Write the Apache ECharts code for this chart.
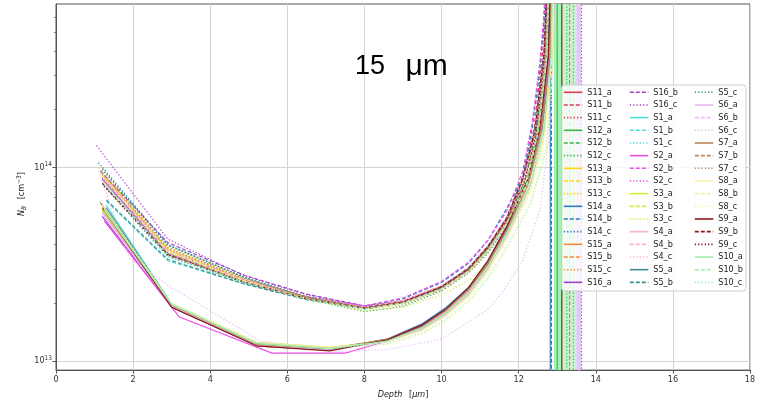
<!DOCTYPE html>
<html><head><meta charset="utf-8">
<script src="https://cdn.jsdelivr.net/npm/echarts@6/dist/echarts.min.js"></script>
<style>html,body{margin:0;padding:0;background:#fff}#c{width:768px;height:406px}</style>
</head><body><div id="c"></div>
<script>
// ---------- DATA (depth in µm, N_B in cm^-3) ----------
const xTicks = [0, 2, 4, 6, 8, 10, 12, 14, 16, 18];
const yMajorTicks = [1e13, 1e14];
const yMinorTicks = [2e13,3e13,4e13,5e13,6e13,7e13,8e13,9e13,2e14,3e14,4e14,5e14,6e14];
const titleText = '15 μm';

const S11_a = [[1.25,5.9e13],[3.0,1.9e13],[5.2,1.2e13],[7.1,1.14e13],[8.6,1.3e13],[9.5,1.55e13],[10.1,1.85e13],[10.7,2.4e13],[11.2,3.3e13],[11.7,5.0e13],[12.25,8.8e13],[12.6,1.65e14],[12.78,3.8e14],[12.86,2e15]];
const S11_b = [[1.2,8.8e13],[2.9,3.6e13],[4.9,2.55e13],[6.5,2.1e13],[8.0,1.87e13],[9.0,2.0e13],[10.0,2.4e13],[10.7,3.0e13],[11.2,3.9e13],[11.7,5.6e13],[12.1,9.0e13],[12.4,1.6e14],[12.62,3.8e14],[12.75,2e15]];
const S11_c = [[1.2,9.3e13],[2.9,3.8e13],[4.9,2.65e13],[6.5,2.15e13],[8.0,1.9e13],[9.0,2.03e13],[10.0,2.4e13],[10.7,2.95e13],[11.2,3.8e13],[11.7,5.3e13],[12.15,8.3e13],[12.45,1.45e14],[12.68,3.6e14],[12.8,2e15]];
const S12_a = [[1.2,6.0e13],[3.0,1.95e13],[5.2,1.23e13],[7.1,1.16e13],[8.6,1.29e13],[9.5,1.5e13],[10.1,1.8e13],[10.7,2.3e13],[11.2,3.15e13],[11.7,4.7e13],[12.25,8.2e13],[12.6,1.55e14],[12.82,3.8e14],[12.9,3e15],[13.0,1e17],[13.0,1e12]];
const S12_b = [[1.25,8.5e13],[2.9,3.6e13],[4.9,2.6e13],[6.5,2.12e13],[8.0,1.87e13],[9.0,2.0e13],[10.0,2.38e13],[10.7,2.95e13],[11.2,3.8e13],[11.7,5.3e13],[12.15,8.4e13],[12.45,1.5e14],[12.68,3.9e14],[12.8,2e15]];
const S12_c = [[1.2,9.8e13],[2.9,4.0e13],[4.9,2.7e13],[6.5,2.1e13],[8.0,1.8e13],[9.0,1.92e13],[10.0,2.3e13],[10.7,2.85e13],[11.2,3.6e13],[11.7,5.0e13],[12.2,7.8e13],[12.5,1.4e14],[12.72,3.5e14],[12.85,2e15],[13.25,1e17],[13.25,1e12]];
const S13_a = [[1.2,6.1e13],[3.0,1.97e13],[5.2,1.25e13],[7.1,1.18e13],[8.6,1.27e13],[9.5,1.47e13],[10.1,1.75e13],[10.7,2.22e13],[11.2,3.0e13],[11.7,4.5e13],[12.3,8.0e13],[12.65,1.55e14],[12.84,3.8e14],[12.92,3e15]];
const S13_b = [[1.15,9.5e13],[2.9,3.8e13],[4.9,2.62e13],[6.5,2.14e13],[8.0,1.9e13],[9.0,2.05e13],[10.0,2.45e13],[10.7,3.0e13],[11.2,3.85e13],[11.7,5.4e13],[12.1,8.5e13],[12.42,1.5e14],[12.66,3.7e14],[12.8,2e15]];
const S13_c = [[1.1,1.0e14],[2.9,3.9e13],[4.9,2.68e13],[6.5,2.16e13],[8.0,1.9e13],[9.0,2.02e13],[10.0,2.38e13],[10.7,2.9e13],[11.2,3.7e13],[11.7,5.1e13],[12.2,8.0e13],[12.5,1.45e14],[12.72,3.6e14],[12.85,2e15]];
const S14_a = [[1.25,5.8e13],[3.0,1.92e13],[5.2,1.21e13],[7.1,1.15e13],[8.6,1.3e13],[9.5,1.56e13],[10.1,1.88e13],[10.7,2.4e13],[11.2,3.25e13],[11.7,4.9e13],[12.25,8.6e13],[12.6,1.65e14],[12.77,3.8e14],[12.8,3e15],[12.82,1e17],[12.82,1e12]];
const S14_b = [[1.2,8.7e13],[2.9,3.55e13],[4.9,2.58e13],[6.5,2.15e13],[8.0,1.92e13],[9.0,2.1e13],[10.0,2.55e13],[10.7,3.2e13],[11.2,4.2e13],[11.7,6.2e13],[12.1,8.8e13],[12.35,1.6e14],[12.55,3.2e14],[12.68,6.5e14],[12.75,3e15],[12.85,1e17],[12.85,1e12]];
const S14_c = [[1.1,1.06e14],[2.9,4.0e13],[4.9,2.7e13],[6.5,2.15e13],[8.0,1.88e13],[9.0,2.0e13],[10.0,2.35e13],[10.7,2.9e13],[11.2,3.7e13],[11.7,5.1e13],[12.2,8.0e13],[12.5,1.5e14],[12.72,3.8e14],[12.85,2e15]];
const S15_a = [[1.15,6.6e13],[3.0,1.93e13],[5.2,1.2e13],[7.1,1.14e13],[8.6,1.28e13],[9.5,1.5e13],[10.1,1.8e13],[10.7,2.3e13],[11.2,3.15e13],[11.7,4.7e13],[12.25,8.2e13],[12.6,1.55e14],[12.82,3.7e14],[12.9,3e15]];
const S15_b = [[1.2,9.0e13],[2.9,3.7e13],[4.9,2.6e13],[6.5,2.12e13],[8.0,1.88e13],[9.0,2.02e13],[10.0,2.4e13],[10.7,2.98e13],[11.2,3.85e13],[11.7,5.4e13],[12.1,8.6e13],[12.42,1.55e14],[12.66,3.8e14],[12.8,2e15]];
const S15_c = [[1.2,9.2e13],[2.9,3.75e13],[4.9,2.63e13],[6.5,2.13e13],[8.0,1.89e13],[9.0,2.0e13],[10.0,2.36e13],[10.7,2.92e13],[11.2,3.75e13],[11.7,5.2e13],[12.2,8.2e13],[12.5,1.5e14],[12.72,3.7e14],[12.85,2e15]];
const S16_a = [[1.2,5.6e13],[3.0,1.9e13],[5.2,1.21e13],[7.1,1.15e13],[8.6,1.29e13],[9.5,1.52e13],[10.1,1.82e13],[10.7,2.35e13],[11.2,3.2e13],[11.7,4.8e13],[12.25,8.4e13],[12.6,1.6e14],[12.82,3.7e14],[12.9,3e15]];
const S16_b = [[1.15,9.6e13],[2.9,4.1e13],[4.9,2.77e13],[6.5,2.22e13],[8.0,1.93e13],[9.0,2.05e13],[10.0,2.42e13],[10.7,3.0e13],[11.2,3.85e13],[11.7,5.4e13],[12.1,8.5e13],[12.42,1.5e14],[12.66,3.8e14],[12.8,2e15]];
const S16_c = [[1.05,1.3e14],[2.9,4.27e13],[4.9,2.75e13],[6.5,2.2e13],[8.0,1.92e13],[9.0,2.03e13],[10.0,2.4e13],[10.7,2.95e13],[11.2,3.8e13],[11.7,5.3e13],[12.2,8.3e13],[12.5,1.5e14],[12.72,3.8e14],[12.85,2e15],[13.63,1e17],[13.63,1e12]];
const S1_a = [[1.3,6.4e13],[3.0,1.98e13],[5.2,1.24e13],[7.1,1.16e13],[8.6,1.28e13],[9.5,1.5e13],[10.1,1.8e13],[10.7,2.3e13],[11.2,3.15e13],[11.7,4.7e13],[12.25,8.2e13],[12.6,1.55e14],[12.82,3.7e14],[12.9,3e15]];
const S1_b = [[1.31,6.7e13],[2.9,3.3e13],[4.9,2.5e13],[6.5,2.08e13],[8.0,1.86e13],[9.0,2.0e13],[10.0,2.4e13],[10.7,3.0e13],[11.2,3.9e13],[11.7,5.5e13],[12.1,8.7e13],[12.42,1.55e14],[12.66,3.9e14],[12.8,2e15]];
const S1_c = [[1.25,8.0e13],[2.9,3.45e13],[4.9,2.52e13],[6.5,2.1e13],[8.0,1.87e13],[9.0,2.0e13],[10.0,2.38e13],[10.7,2.95e13],[11.2,3.8e13],[11.7,5.3e13],[12.2,8.3e13],[12.5,1.5e14],[12.72,3.8e14],[12.85,2e15]];
const S2_a = [[1.25,5.3e13],[3.2,1.69e13],[5.6,1.1e13],[7.5,1.1e13],[8.6,1.27e13],[9.5,1.5e13],[10.1,1.8e13],[10.7,2.32e13],[11.2,3.2e13],[11.7,4.8e13],[12.25,8.4e13],[12.6,1.62e14],[12.8,3.8e14],[12.88,3e15]];
const S2_b = [[1.2,8.8e13],[2.9,3.6e13],[4.9,2.6e13],[6.5,2.15e13],[8.0,1.93e13],[9.0,2.12e13],[10.0,2.58e13],[10.7,3.25e13],[11.2,4.2e13],[11.7,6.0e13],[12.1,9.5e13],[12.35,1.7e14],[12.55,3.5e14],[12.68,7e14],[12.78,3e15]];
const S2_c = [[1.2,9.0e13],[2.9,3.7e13],[4.9,2.62e13],[6.5,2.13e13],[8.0,1.9e13],[9.0,2.05e13],[10.0,2.45e13],[10.7,3.05e13],[11.2,3.95e13],[11.7,5.5e13],[12.1,8.7e13],[12.42,1.55e14],[12.66,3.8e14],[12.8,2e15]];
const S3_a = [[1.2,6.0e13],[3.0,1.96e13],[5.2,1.24e13],[7.1,1.17e13],[8.6,1.27e13],[9.5,1.48e13],[10.1,1.76e13],[10.7,2.25e13],[11.2,3.05e13],[11.7,4.6e13],[12.3,8.1e13],[12.65,1.55e14],[12.84,3.7e14],[12.92,3e15]];
const S3_b = [[1.2,9.0e13],[2.9,3.65e13],[4.9,2.58e13],[6.5,2.1e13],[8.0,1.87e13],[9.0,2.0e13],[10.0,2.38e13],[10.7,2.95e13],[11.2,3.8e13],[11.7,5.3e13],[12.2,8.3e13],[12.5,1.5e14],[12.72,3.8e14],[12.85,2e15]];
const S3_c = [[1.2,9.4e13],[2.9,3.8e13],[4.9,2.6e13],[6.5,2.08e13],[8.0,1.82e13],[9.0,1.9e13],[10.0,2.2e13],[10.7,2.6e13],[11.2,3.2e13],[11.7,4.4e13],[12.2,6.8e13],[12.62,1.25e14],[12.8,3.2e14],[12.9,2e15]];
const S4_a = [[1.2,5.9e13],[3.0,1.94e13],[5.2,1.22e13],[7.1,1.15e13],[8.6,1.28e13],[9.5,1.5e13],[10.1,1.8e13],[10.7,2.3e13],[11.2,3.15e13],[11.7,4.7e13],[12.25,8.2e13],[12.6,1.55e14],[12.82,3.7e14],[12.9,3e15]];
const S4_b = [[1.2,8.9e13],[2.9,3.7e13],[4.9,2.6e13],[6.5,2.13e13],[8.0,1.9e13],[9.0,2.06e13],[10.0,2.46e13],[10.7,3.05e13],[11.2,3.95e13],[11.7,5.5e13],[12.1,8.7e13],[12.42,1.55e14],[12.66,3.8e14],[12.8,2e15]];
const S4_c = [[1.15,9.5e13],[2.9,3.8e13],[4.9,2.64e13],[6.5,2.14e13],[8.0,1.89e13],[9.0,2.02e13],[10.0,2.4e13],[10.7,2.96e13],[11.2,3.8e13],[11.7,5.3e13],[12.2,8.3e13],[12.5,1.5e14],[12.72,3.8e14],[12.85,2e15]];
const S5_a = [[1.3,6.2e13],[3.0,1.97e13],[5.2,1.23e13],[7.1,1.15e13],[8.6,1.29e13],[9.5,1.52e13],[10.1,1.83e13],[10.7,2.35e13],[11.2,3.2e13],[11.7,4.8e13],[12.25,8.4e13],[12.6,1.6e14],[12.82,3.7e14],[12.9,3e15]];
const S5_b = [[1.31,6.8e13],[2.9,3.35e13],[4.9,2.5e13],[6.5,2.08e13],[8.0,1.86e13],[9.0,2.0e13],[10.0,2.42e13],[10.7,3.02e13],[11.2,3.9e13],[11.7,5.5e13],[12.1,8.7e13],[12.42,1.55e14],[12.66,3.9e14],[12.8,2e15]];
const S5_c = [[1.2,9.8e13],[2.9,3.95e13],[4.9,2.7e13],[6.5,2.15e13],[8.0,1.88e13],[9.0,2.0e13],[10.0,2.36e13],[10.7,2.9e13],[11.2,3.7e13],[11.7,5.1e13],[12.2,8.0e13],[12.5,1.45e14],[12.72,3.6e14],[12.85,2e15]];
const S6_a = [[1.2,5.8e13],[3.0,1.92e13],[5.2,1.21e13],[7.1,1.14e13],[8.6,1.26e13],[9.5,1.46e13],[10.1,1.73e13],[10.7,2.2e13],[11.2,3.0e13],[11.7,4.5e13],[12.3,8.0e13],[12.65,1.55e14],[12.84,3.7e14],[12.92,3e15]];
const S6_b = [[1.2,8.6e13],[2.9,3.55e13],[4.9,2.55e13],[6.5,2.1e13],[8.0,1.87e13],[9.0,2.0e13],[10.0,2.36e13],[10.7,2.9e13],[11.2,3.7e13],[11.7,5.1e13],[12.2,8.0e13],[12.5,1.45e14],[12.72,3.6e14],[12.85,2e15],[13.56,1e17],[13.56,1e12]];
const S6_c = [[1.1,9.6e13],[1.9,3.4e13],[3.0,2.4e13],[5.3,1.27e13],[7.3,1.12e13],[8.6,1.15e13],[10.0,1.3e13],[11.2,1.85e13],[11.6,2.3e13],[12.1,3.3e13],[12.55,6.0e13],[12.82,1.6e14],[12.95,8e14]];
const S7_a = [[1.15,6.6e13],[3.0,1.95e13],[5.2,1.22e13],[7.1,1.16e13],[8.6,1.3e13],[9.5,1.53e13],[10.1,1.83e13],[10.7,2.35e13],[11.2,3.2e13],[11.7,4.8e13],[12.25,8.4e13],[12.6,1.6e14],[12.82,3.7e14],[12.9,3e15]];
const S7_b = [[1.2,9.0e13],[2.9,3.7e13],[4.9,2.6e13],[6.5,2.12e13],[8.0,1.88e13],[9.0,2.0e13],[10.0,2.38e13],[10.7,2.95e13],[11.2,3.8e13],[11.7,5.3e13],[12.2,8.3e13],[12.5,1.5e14],[12.72,3.8e14],[12.85,2e15],[13.32,1e17],[13.32,1e12]];
const S7_c = [[1.2,9.4e13],[2.9,3.85e13],[4.9,2.66e13],[6.5,2.14e13],[8.0,1.86e13],[9.0,1.96e13],[10.0,2.32e13],[10.7,2.85e13],[11.2,3.65e13],[11.7,5.0e13],[12.2,7.8e13],[12.55,1.45e14],[12.76,3.6e14],[12.9,2e15],[13.42,1e17],[13.42,1e12]];
const S8_a = [[1.2,6.3e13],[3.0,1.98e13],[5.2,1.25e13],[7.1,1.18e13],[8.6,1.26e13],[9.5,1.44e13],[10.1,1.7e13],[10.7,2.15e13],[11.2,2.9e13],[11.7,4.3e13],[12.3,7.6e13],[12.68,1.5e14],[12.86,3.7e14],[12.95,3e15]];
const S8_b = [[1.2,9.0e13],[2.9,3.7e13],[4.9,2.6e13],[6.5,2.1e13],[8.0,1.86e13],[9.0,1.98e13],[10.0,2.34e13],[10.7,2.88e13],[11.2,3.7e13],[11.7,5.1e13],[12.2,8.0e13],[12.5,1.45e14],[12.72,3.6e14],[12.85,2e15]];
const S8_c = [[1.2,6.4e13],[3.0,2.0e13],[5.2,1.26e13],[7.1,1.17e13],[8.6,1.22e13],[9.5,1.38e13],[10.1,1.6e13],[10.7,2.0e13],[11.2,2.6e13],[11.7,3.8e13],[12.3,6.2e13],[12.72,1.2e14],[12.88,3.5e14],[12.95,3e15]];
const S9_a = [[1.2,6.2e13],[3.0,1.9e13],[5.2,1.2e13],[7.1,1.13e13],[8.6,1.29e13],[9.5,1.54e13],[10.1,1.85e13],[10.7,2.4e13],[11.2,3.3e13],[11.7,5.0e13],[12.25,8.8e13],[12.55,1.6e14],[12.77,3.8e14],[12.9,3e15],[13.12,1e17],[13.12,1e12]];
const S9_b = [[1.2,8.3e13],[2.9,3.55e13],[4.9,2.55e13],[6.5,2.1e13],[8.0,1.88e13],[9.0,2.02e13],[10.0,2.42e13],[10.7,3.0e13],[11.2,3.9e13],[11.7,5.5e13],[12.1,8.7e13],[12.42,1.55e14],[12.66,3.9e14],[12.8,2e15]];
const S9_c = [[1.25,8.0e13],[2.9,3.5e13],[4.9,2.55e13],[6.5,2.11e13],[8.0,1.88e13],[9.0,2.01e13],[10.0,2.4e13],[10.7,2.97e13],[11.2,3.85e13],[11.7,5.4e13],[12.15,8.5e13],[12.45,1.5e14],[12.68,3.8e14],[12.8,2e15]];
const S10_a = [[1.25,6.0e13],[3.0,1.96e13],[5.2,1.23e13],[7.1,1.16e13],[8.6,1.27e13],[9.5,1.48e13],[10.1,1.76e13],[10.7,2.25e13],[11.2,3.05e13],[11.7,4.6e13],[12.3,8.1e13],[12.65,1.55e14],[12.84,3.7e14],[12.92,3e15]];
const S10_b = [[1.25,8.2e13],[2.9,3.5e13],[4.9,2.55e13],[6.5,2.1e13],[8.0,1.87e13],[9.0,2.0e13],[10.0,2.37e13],[10.7,2.93e13],[11.2,3.75e13],[11.7,5.2e13],[12.2,8.2e13],[12.5,1.5e14],[12.72,3.7e14],[12.85,2e15]];
const S10_c = [[1.25,6.1e13],[3.0,1.98e13],[5.2,1.25e13],[7.1,1.17e13],[8.6,1.23e13],[9.5,1.4e13],[10.1,1.63e13],[10.7,2.05e13],[11.2,2.7e13],[11.7,3.95e13],[12.3,6.5e13],[12.72,1.25e14],[12.88,3.6e14],[12.95,3e15]];

// shaded depth bands at the right end (x ranges)
const bandGreen = [12.91, 13.12];
const bandPaleGreen = [13.12, 13.49];
const bandLavender = [13.49, 13.62];

const groups = ['S11','S12','S13','S14','S15','S16','S1','S2','S3','S4','S5','S6','S7','S8','S9','S10'];
const variants = ['a','b','c'];
const seriesData = {S11_a,S11_b,S11_c,S12_a,S12_b,S12_c,S13_a,S13_b,S13_c,S14_a,S14_b,S14_c,S15_a,S15_b,S15_c,S16_a,S16_b,S16_c,
  S1_a,S1_b,S1_c,S2_a,S2_b,S2_c,S3_a,S3_b,S3_c,S4_a,S4_b,S4_c,S5_a,S5_b,S5_c,S6_a,S6_b,S6_c,S7_a,S7_b,S7_c,S8_a,S8_b,S8_c,S9_a,S9_b,S9_c,S10_a,S10_b,S10_c};

// ---------- STYLE ----------
const groupColors = {S11:'#dc3c55',S12:'#3db54a',S13:'#ffd21a',S14:'#2b7bc4',S15:'#ef8a3a',S16:'#a040c8',
  S1:'#4fdcdc',S2:'#ee4fe6',S3:'#d2ec3e',S4:'#f8b4bc',S5:'#3d9090',S6:'#ecbaf5',S7:'#bb8856',S8:'#fbf0a8',S9:'#8b1a1a',S10:'#9ff0b0'};
const dashFor = {a:'solid', b:[4,2], c:[1.3,2]};
const FONT = "'DejaVu Sans Condensed','DejaVu Sans',sans-serif";
const TITLE_FONT = "'Liberation Sans', Arial, sans-serif";

const names = [];
groups.forEach(g => variants.forEach(v => names.push(g + '_' + v)));

const series = names.map(n => {
  const [g, v] = n.split('_');
  const s = {
    name: n, type: 'line', data: seriesData[n], symbol: 'none', showSymbol: false,
    clip: true, silent: true, animation: false, z: 2,
    lineStyle: {color: groupColors[g], width: 1.15, type: dashFor[v]},
    itemStyle: {color: groupColors[g]}
  };
  if (n === 'S10_a') s.markArea = {silent: true, itemStyle: {color: '#a2f2b4', opacity: 1}, data: [[{xAxis: bandGreen[0]}, {xAxis: bandGreen[1]}]]};
  if (n === 'S10_c') s.markArea = {silent: true, itemStyle: {color: '#c6f4cd', opacity: 1}, data: [[{xAxis: bandPaleGreen[0]}, {xAxis: bandPaleGreen[1]}]]};
  if (n === 'S6_a') s.markArea = {silent: true, itemStyle: {color: '#e2cdf3', opacity: 1}, data: [[{xAxis: bandLavender[0]}, {xAxis: bandLavender[1]}]]};
  return s;
});

function isDecade(v) { const e = Math.log10(v); return Math.abs(e - Math.round(e)) < 1e-6; }

const legendCommon = {
  orient: 'vertical', padding: 0, itemWidth: 18.5, itemHeight: 10, itemGap: 2.67,
  selectedMode: false, lineStyle: {width: 1.6}, itemStyle: {opacity: 0},
  textStyle: {fontSize: 9, lineHeight: 10, color: '#222', fontFamily: FONT}
};
const legendLefts = [563, 629, 694];

const chart = echarts.init(document.getElementById('c'), null, {renderer: 'canvas'});
chart.setOption({
  animation: false,
  backgroundColor: '#fff',
  grid: {left: 56, right: 18, top: 4, bottom: 34, show: true, borderColor: '#555', borderWidth: 1, backgroundColor: 'transparent'},
  xAxis: {
    type: 'value', min: xTicks[0], max: xTicks[xTicks.length - 1], interval: 2,
    name: '{i|Depth}  {n|[}{i|μm}{n|]}', nameLocation: 'middle', nameGap: 17,
    nameTextStyle: {rich: {i: {fontStyle: 'italic', fontSize: 9, fontFamily: FONT, color: '#222'}, n: {fontSize: 9, fontFamily: FONT, color: '#222'}}},
    axisLine: {show: true, lineStyle: {color: '#555', width: 1}},
    axisTick: {show: true, inside: false, length: 3.5, lineStyle: {color: '#555'}},
    axisLabel: {fontSize: 9, color: '#333', margin: 5, fontFamily: FONT},
    splitLine: {show: true, lineStyle: {color: '#d4d4d4', width: 1}}
  },
  yAxis: [{
    type: 'log', logBase: 10, min: 8.99e12, max: 7.0e14,
    name: '{i|N}{s|B}  {n|[cm}{p|−3}{n|]}', nameLocation: 'middle', nameGap: 28, nameMoveOverlap: false,
    nameTextStyle: {padding: [0, 14, 0, 0], rich: {
      i: {fontStyle: 'italic', fontSize: 9, fontFamily: FONT, color: '#222'},
      s: {fontStyle: 'italic', fontSize: 6.5, fontFamily: FONT, color: '#222', padding: [4, 0, 0, 0]},
      n: {fontSize: 9, fontFamily: FONT, color: '#222'},
      p: {fontSize: 6.5, fontFamily: FONT, color: '#222', padding: [0, 0, 5, 0]}
    }},
    axisLine: {show: true, lineStyle: {color: '#555', width: 1}},
    axisTick: {show: true, length: 3.5, lineStyle: {color: '#555'}, customValues: yMajorTicks},
    axisLabel: {
      customValues: yMajorTicks, margin: 4, fontFamily: FONT,
      formatter: v => isDecade(v) ? '{b|10}{e|' + Math.round(Math.log10(v)) + '}' : '',
      rich: {b: {fontSize: 9, color: '#333', fontFamily: FONT}, e: {fontSize: 6.5, color: '#333', fontFamily: FONT, padding: [0, 0, 6, 0]}}
    },
    splitLine: {show: true, lineStyle: {color: '#d4d4d4', width: 1}}
  }, {
    type: 'log', logBase: 10, min: 8.99e12, max: 7.0e14, position: 'left', offset: 0,
    axisLine: {show: false}, axisLabel: {show: false}, splitLine: {show: false},
    axisTick: {show: true, length: 2, lineStyle: {color: '#777'}, customValues: yMinorTicks}
  }],
  legend: [0, 1, 2].map(k => Object.assign({}, legendCommon, {
    left: legendLefts[k], top: 87.3, data: names.slice(k * 16, k * 16 + 16)
  })),
  graphic: [
    {type: 'rect', z: 3, silent: true, shape: {x: 561.5, y: 85, width: 184.5, height: 206, r: 3},
     style: {fill: 'rgba(255,255,255,0.8)', stroke: '#cccccc', lineWidth: 1}},
    {type: 'text', z: 5, silent: true, style: {
      text: '{a|15}{s| }{b|μm}', x: 355, y: 67, align: 'left', verticalAlign: 'middle',
      font: '27px ' + TITLE_FONT, fill: '#000',
      rich: {
        a: {font: '27px ' + TITLE_FONT, fill: '#000'},
        s: {font: '27px ' + TITLE_FONT, width: 15},
        b: {font: '30px ' + TITLE_FONT, fill: '#000', width: 53, align: 'center'}
      }}}
  ],
  series: series
});
</script></body></html>
